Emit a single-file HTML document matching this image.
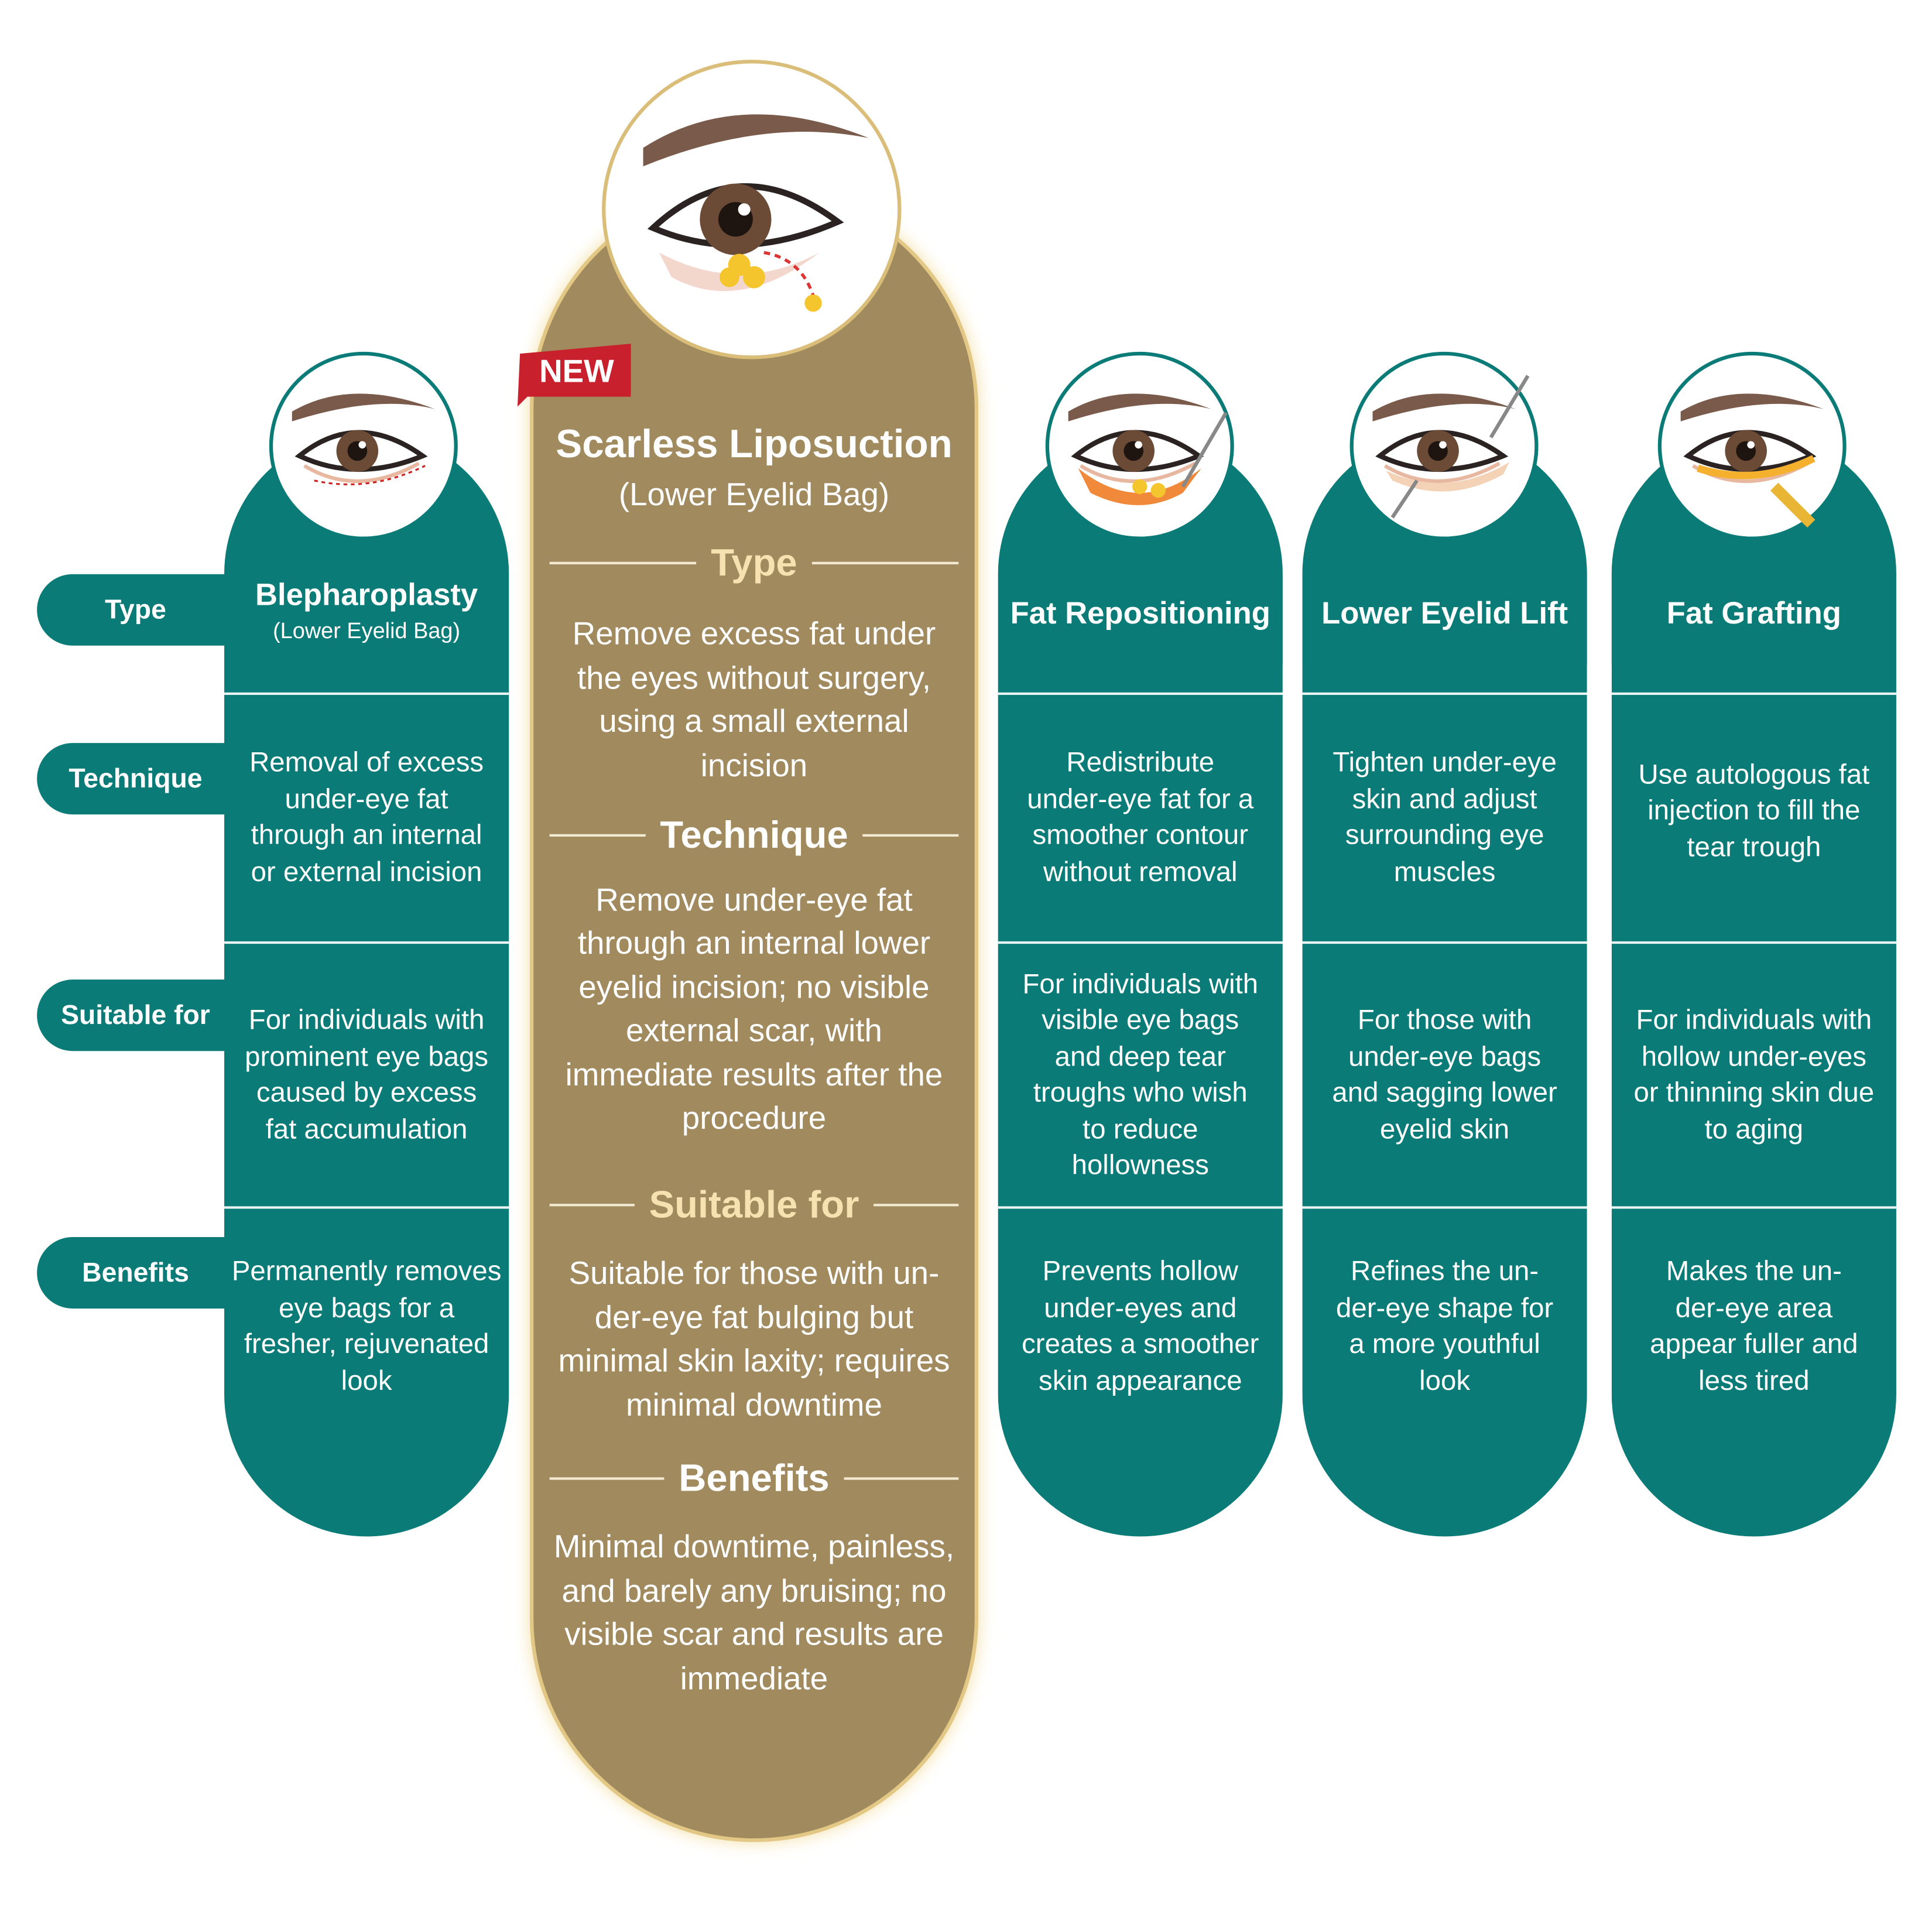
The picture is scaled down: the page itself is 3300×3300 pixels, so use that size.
<!DOCTYPE html>
<html><head><meta charset="utf-8"><style>
html,body{margin:0;padding:0;background:#fff;}
#w{width:3300px;height:3300px;overflow:hidden;position:relative;}
#s{position:absolute;left:0;top:0;width:1568px;height:1568px;transform:scale(2.10459);transform-origin:0 0;font-family:"Liberation Sans",sans-serif;}
.a{position:absolute;}
.col{position:absolute;top:350px;width:231px;height:897px;background:#0b7b78;border-radius:116px;}
.hl{position:absolute;height:2px;background:#e8f3f2;}
.lab{position:absolute;left:30px;width:160px;height:58px;background:#0b7b78;border-radius:29px 0 0 29px;color:#fff;font-weight:bold;font-size:22px;display:flex;align-items:center;justify-content:center;padding-right:0;}
.t{position:absolute;color:#fff;text-align:center;display:flex;align-items:center;justify-content:center;font-size:22.5px;line-height:29.5px;}
.ct{position:absolute;left:436px;width:352px;color:#fff;text-align:center;display:flex;align-items:center;justify-content:center;font-size:26px;line-height:35.5px;}
.h{position:absolute;left:434px;width:356px;display:flex;align-items:center;color:#f6e2b0;font-weight:bold;font-size:31px;}
.h i{flex:1;height:2px;background:#f4ead3;margin:0 12px;}
</style></head><body><div id="w"><div id="s">

<div class="a" style="left:430px;top:150px;width:364px;height:1345px;border-radius:182px;background:#a08a5e;border:3px solid #e2c785;box-sizing:border-box;box-shadow:0 0 14px #f3dfa6;"></div>

<div class="col" style="left:182px"></div>
<div class="col" style="left:810px"></div>
<div class="col" style="left:1057px"></div>
<div class="col" style="left:1308px"></div>

<div class="hl" style="left:182px;width:231px;top:562px"></div>
<div class="hl" style="left:182px;width:231px;top:764px"></div>
<div class="hl" style="left:182px;width:231px;top:979px"></div>
<div class="hl" style="left:810px;width:729px;top:562px"></div>
<div class="hl" style="left:810px;width:729px;top:764px"></div>
<div class="hl" style="left:810px;width:729px;top:979px"></div>
<div class="a" style="left:1041px;top:540px;width:16px;height:700px;background:#fff"></div>
<div class="a" style="left:1288px;top:540px;width:20px;height:700px;background:#fff"></div>

<div class="lab" style="top:466px">Type</div>
<div class="lab" style="top:603px">Technique</div>
<div class="lab" style="top:795px">Suitable for</div>
<div class="lab" style="top:1004px">Benefits</div>

<svg class="a" style="left:0;top:0" width="1568" height="1568">
<defs>
<g id="eye">
<circle r="75" fill="#fff" stroke="#0b7b78" stroke-width="3"/>
<path d="M-58,-28 Q-10,-56 58,-30 Q10,-42 -58,-20 Z" fill="#7a5a4a"/>
<path d="M-52,8 Q-5,-30 48,8 Q-5,30 -52,8 Z" fill="#fff" stroke="#2b2222" stroke-width="4"/>
<circle cx="-5" cy="4" r="17" fill="#6b4a36"/>
<circle cx="-5" cy="4" r="8" fill="#1e1410"/>
<circle cx="-1" cy="-1" r="3" fill="#fff"/>
<path d="M-48,16 Q-5,42 45,14" fill="none" stroke="#e8b7a0" stroke-width="3"/>
</g>
</defs>
<use href="#eye" x="295" y="362"/>
<use href="#eye" x="925" y="362"/>
<use href="#eye" x="1172" y="362"/>
<use href="#eye" x="1422" y="362"/>
<path d="M255,390 Q300,400 345,378" fill="none" stroke="#c22" stroke-width="1.5" stroke-dasharray="3 3"/>
<path d="M875,380 Q925,420 975,380 L960,400 Q925,420 885,400Z" fill="#f08a3a"/>
<circle cx="925" cy="395" r="6" fill="#f5c52e"/><circle cx="940" cy="398" r="6" fill="#f5c52e"/>
<line x1="960" y1="395" x2="995" y2="335" stroke="#888" stroke-width="3"/>
<path d="M1125,382 Q1175,405 1225,375 L1220,385 Q1175,410 1130,390Z" fill="#f3d2b6"/>
<line x1="1210" y1="355" x2="1240" y2="305" stroke="#888" stroke-width="3"/>
<line x1="1130" y1="420" x2="1150" y2="390" stroke="#888" stroke-width="3"/>
<path d="M1378,380 Q1425,395 1472,372" fill="none" stroke="#f5b02e" stroke-width="6"/>
<line x1="1440" y1="395" x2="1470" y2="425" stroke="#e8b534" stroke-width="9"/>
<circle cx="610" cy="170" r="120" fill="#fff" stroke="#d9bd78" stroke-width="3"/>
<path d="M522,120 Q600,70 705,112 Q620,95 522,135 Z" fill="#7a5a4a"/>
<path d="M530,185 Q600,120 680,180 Q600,215 530,185 Z" fill="#fff" stroke="#2b2222" stroke-width="5"/>
<circle cx="597" cy="178" r="29" fill="#6b4a36"/>
<circle cx="597" cy="178" r="14" fill="#1e1410"/>
<circle cx="604" cy="170" r="5" fill="#fff"/>
<path d="M535,205 Q600,240 665,205 Q600,255 545,225Z" fill="#f4d7cc"/>
<circle cx="600" cy="215" r="9" fill="#f5c52e"/><circle cx="612" cy="225" r="9" fill="#f5c52e"/><circle cx="592" cy="225" r="8" fill="#f5c52e"/>
<path d="M620,205 Q650,210 660,240" fill="none" stroke="#d33" stroke-width="2.5" stroke-dasharray="5 4"/>
<circle cx="660" cy="246" r="7" fill="#f5c52e"/>
<path d="M422,287 L512,279 L512,322 L428,322 L420,330Z" fill="#c8202c"/>
</svg>
<div class="a" style="left:424px;top:282px;width:88px;height:38px;color:#fff;font-weight:bold;font-size:26px;text-align:center;line-height:38px;">NEW</div>

<div class="a" style="left:436px;top:342px;width:352px;text-align:center;color:#fff;font-weight:bold;font-size:32px;">Scarless Liposuction</div>
<div class="a" style="left:436px;top:386px;width:352px;text-align:center;color:#fff;font-size:26px;">(Lower Eyelid Bag)</div>
<div class="h" style="top:437px;height:40px"><i></i>Type<i></i></div>
<div class="ct" style="top:496px;height:144px">Remove excess fat under<br>the eyes without surgery,<br>using a small external<br>incision</div>
<div class="h" style="top:658px;height:40px;color:#fff"><i></i>Technique<i></i></div>
<div class="ct" style="top:712px;height:214px">Remove under-eye fat<br>through an internal lower<br>eyelid incision; no visible<br>external scar, with<br>immediate results after the<br>procedure</div>
<div class="h" style="top:958px;height:40px"><i></i>Suitable for<i></i></div>
<div class="ct" style="top:1015px;height:144px">Suitable for those with un-<br>der-eye fat bulging but<br>minimal skin laxity; requires<br>minimal downtime</div>
<div class="h" style="top:1180px;height:40px;color:#fff"><i></i>Benefits<i></i></div>
<div class="ct" style="top:1237px;height:144px">Minimal downtime, painless,<br>and barely any bruising; no<br>visible scar and results are<br>immediate</div>

<div class="t" style="left:182px;width:231px;top:466px;height:36px;font-weight:bold;font-size:25px">Blepharoplasty</div>
<div class="t" style="left:182px;width:231px;top:500px;height:26px;font-size:18px">(Lower Eyelid Bag)</div>
<div class="t" style="left:182px;width:231px;top:563px;height:200px">Removal of excess<br>under-eye fat<br>through an internal<br>or external incision</div>
<div class="t" style="left:182px;width:231px;top:765px;height:214px">For individuals with<br>prominent eye bags<br>caused by excess<br>fat accumulation</div>
<div class="t" style="left:182px;width:231px;top:980px;height:192px">Permanently removes<br>eye bags for a<br>fresher, rejuvenated<br>look</div>

<div class="t" style="left:810px;width:231px;top:480px;height:38px;font-weight:bold;font-size:25px">Fat Repositioning</div>
<div class="t" style="left:810px;width:231px;top:563px;height:200px">Redistribute<br>under-eye fat for a<br>smoother contour<br>without removal</div>
<div class="t" style="left:810px;width:231px;top:765px;height:214px">For individuals with<br>visible eye bags<br>and deep tear<br>troughs who wish<br>to reduce<br>hollowness</div>
<div class="t" style="left:810px;width:231px;top:980px;height:192px">Prevents hollow<br>under-eyes and<br>creates a smoother<br>skin appearance</div>

<div class="t" style="left:1057px;width:231px;top:480px;height:38px;font-weight:bold;font-size:25px">Lower Eyelid Lift</div>
<div class="t" style="left:1057px;width:231px;top:563px;height:200px">Tighten under-eye<br>skin and adjust<br>surrounding eye<br>muscles</div>
<div class="t" style="left:1057px;width:231px;top:765px;height:214px">For those with<br>under-eye bags<br>and sagging lower<br>eyelid skin</div>
<div class="t" style="left:1057px;width:231px;top:980px;height:192px">Refines the un-<br>der-eye shape for<br>a more youthful<br>look</div>

<div class="t" style="left:1308px;width:231px;top:480px;height:38px;font-weight:bold;font-size:25px">Fat Grafting</div>
<div class="t" style="left:1308px;width:231px;top:563px;height:190px">Use autologous fat<br>injection to fill the<br>tear trough</div>
<div class="t" style="left:1308px;width:231px;top:765px;height:214px">For individuals with<br>hollow under-eyes<br>or thinning skin due<br>to aging</div>
<div class="t" style="left:1308px;width:231px;top:980px;height:192px">Makes the un-<br>der-eye area<br>appear fuller and<br>less tired</div>

</div></div></body></html>
